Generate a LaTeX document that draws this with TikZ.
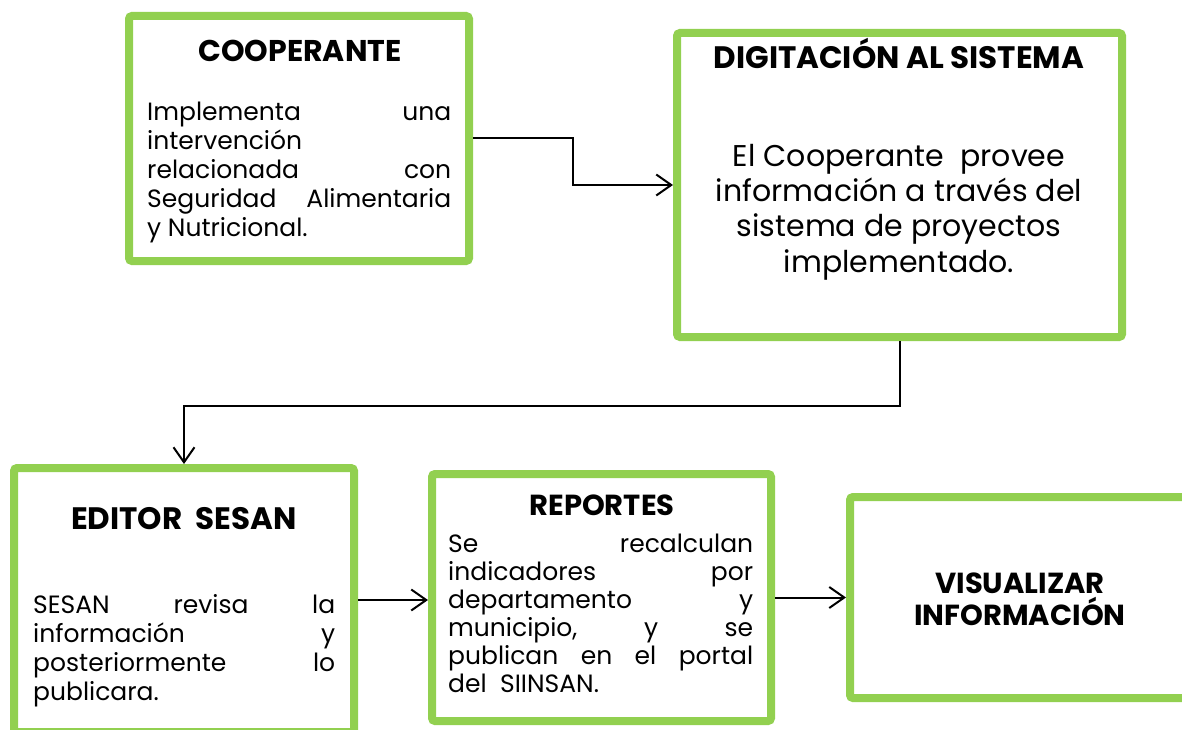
\documentclass[tikz,border=0pt]{standalone}
\usepackage{fontspec}
\setmainfont{Poppins}
\usetikzlibrary{arrows.meta,backgrounds}
\definecolor{lgreen}{HTML}{92D050}
\newcommand{\jl}[1]{\makebox[\linewidth][s]{#1}\par}
\newcommand{\bodyA}{\fontsize{25}{29}\selectfont}
\newcommand{\bodyB}{\fontsize{30}{35}\selectfont}
\newcommand{\ttlfont}{\fontsize{30}{34}\selectfont\bfseries}
\tikzset{
  box/.style={draw=lgreen, line width=8pt, fill=white, rounded corners=3pt, inner sep=0pt},
  ttl/.style={anchor=base, inner sep=0pt, font=\ttlfont},
  txt/.style={anchor=base west, inner sep=0pt},
  flow/.style={draw=black, line width=2pt, -{Straight Barb[length=15pt,width=21pt,line width=2pt]}},
}
\newcommand{\shadowof}[1]{%
  \begin{pgfonlayer}{background}
    \fill[black, opacity=0.10, rounded corners=4pt] ([shift={(-3,-1)}]#1.north west) rectangle ([shift={(7,9)}]#1.south east);
    \fill[black, opacity=0.12, rounded corners=4pt] ([shift={(-2,0)}]#1.north west) rectangle ([shift={(6,7)}]#1.south east);
  \end{pgfonlayer}}
\begin{document}
\begin{tikzpicture}[x=1pt,y=-1pt]
\useasboundingbox (0,0) rectangle (1182,730);
\fill[white] (0,0) rectangle (1182,730);
% boxes
\node[box, minimum width=340pt, minimum height=245pt] (b1) at (299,138.5) {};
\node[box, minimum width=445pt, minimum height=304pt] (b2) at (899.5,185) {};
\node[box, minimum width=340pt, minimum height=264pt] (b3) at (184,600) {};
\node[box, minimum width=339pt, minimum height=247pt] (b4) at (601.5,597.5) {};
\node[box, minimum width=340pt, minimum height=201pt] (b5) at (1020,597.5) {};
\shadowof{b1}\shadowof{b2}\shadowof{b3}\shadowof{b4}\shadowof{b5}
% box 1
\node[ttl] (t1) at (300,62) {COOPERANTE};
\node[txt] (x1) at (147,121) {\parbox[t]{304pt}{\bodyA
  \jl{Implementa\hfill una}
  intervención\par
  \jl{relacionada\hfill con}
  \jl{Seguridad\hfill Alimentaria}
  y Nutricional.}};
% box 2
\node[ttl, font=\fontsize{31}{34}\selectfont\bfseries] (t2) at (899,69) {DIGITACIÓN AL SISTEMA};
\node[anchor=base, inner sep=0pt] (x2) at (899,167) {\parbox[t]{440pt}{\centering\bodyB
  El Cooperante\ \ provee\\
  información a través del\\
  sistema de proyectos\\
  implementado.}};
% box 3
\node[ttl, font=\fontsize{31}{34}\selectfont\bfseries] (t3) at (184,529) {EDITOR\ \ SESAN};
\node[txt] (x3) at (33,613) {\parbox[t]{302pt}{\bodyA
  \jl{SESAN\hfill revisa\hfill la}
  \jl{información\hfill y}
  \jl{posteriormente\hfill lo}
  publicara.}};
% box 4
\node[ttl, font=\fontsize{29}{34}\selectfont\bfseries] (t4) at (602,515) {REPORTES};
\node[txt] (x4) at (448,552) {\parbox[t]{305pt}{\fontsize{25}{28}\selectfont
  \jl{Se\hfill recalculan}
  \jl{indicadores\hfill por}
  \jl{departamento\hfill y}
  \jl{municipio,\hfill y\hfill se}
  \jl{publican en el portal}
  del\ \ SIINSAN.}};
% box 5
\node[anchor=base, inner sep=0pt] (x5) at (1020,593) {\parbox[t]{330pt}{\centering\fontsize{29}{32}\selectfont\bfseries
  VISUALIZAR\\ INFORMACIÓN}};
% connectors
\draw[flow] (b1.east) -- ++(100,0) |- (b2.west);
\draw[flow] (b2.south) -- ++(0,65) -| (b3.north);
\draw[flow] (b3.east) -- (b4.west |- b3.east);
\draw[flow] (b4.east) -- (b5.west);
\end{tikzpicture}
\end{document}
